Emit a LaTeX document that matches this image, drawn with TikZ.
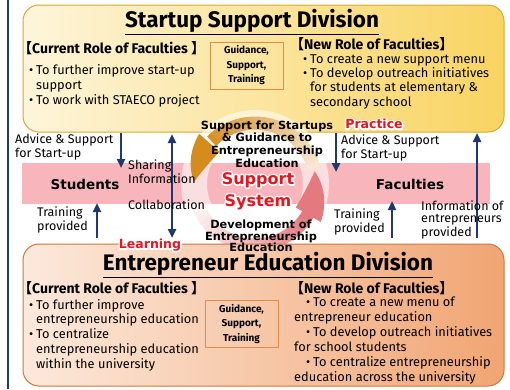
\documentclass[tikz,border=0pt]{standalone}
\usepackage{fontspec}
\setmainfont{Fira Sans}
\newfontfamily\cjk{Noto Sans CJK JP}
\newfontfamily\wide{DejaVu Sans}
\usetikzlibrary{arrows.meta}

\definecolor{navy}{RGB}{31,56,110}
\definecolor{topfillL}{RGB}{254,245,218}
\definecolor{topfillR}{RGB}{249,212,98}
\definecolor{topedge}{RGB}{214,170,50}
\definecolor{botfillL}{RGB}{252,233,220}
\definecolor{botfillR}{RGB}{241,165,115}
\definecolor{botedge}{RGB}{204,118,62}
\definecolor{gstorange}{RGB}{228,140,70}
\definecolor{bandpink}{RGB}{248,182,188}
\definecolor{ringgold}{RGB}{212,140,30}
\definecolor{ringpink}{RGB}{228,122,128}
\definecolor{glowred}{RGB}{232,20,30}

\newcommand\lb{{\cjk【}}
\newcommand\rb{{\cjk】}}
\newcommand\bul{\makebox[7pt][l]{•}}
\newcommand\halo[1]{\special{pdf:literal direct 2 Tr 3.2 w 1 j}#1\special{pdf:literal direct 0 Tr 1 w 0 j}}
\newcommand\glowlabel[4]{%
  \node[glowtext, font=#3, text=white] at (#2) {\halo{#4}};
  \node[glowtext, font=#3, text=glowred] (#1) at (#2) {#4};}

\tikzset{
  divbox/.style={rounded corners=16pt, line width=1pt},
  divtitle/.style={font=\fontsize{22.5}{26}\selectfont\bfseries, inner sep=0},
  rolehead/.style={font=\fontsize{14}{16}\selectfont\bfseries, anchor=west, inner sep=0},
  bullets/.style={font=\fontsize{12.8}{14.6}\selectfont, anchor=base west, align=left, inner sep=0},
  gstbox/.style={draw=gstorange, line width=0.8pt, font=\fontsize{10}{14.5}\selectfont\bfseries,
    align=center, inner sep=0, minimum width=#1, minimum height=47pt},
  midlabel/.style={font=\fontsize{12.5}{11.8}\selectfont, anchor=base west, align=left, inner sep=0},
  sidename/.style={font=\wide\fontsize{13.5}{16}\selectfont\bfseries, inner sep=0},
  ringtext/.style={font=\wide\fontsize{11.3}{12.6}\selectfont\bfseries, align=center, inner sep=0},
  glowtext/.style={align=center, inner sep=0},
  navyarrow/.style={navy, line width=2.5pt, -{Triangle[length=9pt,width=8pt]}},
  navydouble/.style={navy, line width=2.5pt, {Triangle[length=9pt,width=8pt]}-{Triangle[length=9pt,width=8pt]}}
}

\begin{document}
\begin{tikzpicture}[x=1pt, y=-1pt]
\useasboundingbox (0,0) rectangle (510,389);
\fill[white] (0,0) rectangle (510,389);
\draw[navy, line width=1.5pt] (8,0) -- (8,389);

\shade[divbox, left color=topfillL, right color=topfillR, draw=topedge] (23,5) rectangle (504,132);
\fill[bandpink] (22,163) rectangle (490,204);

\begin{scope}[shift={(255,184)}, yscale=-1]
\draw[white, line width=26pt, opacity=0.55] (0,0) circle (61);
\foreach \a in {15,20,...,130} {
  \pgfmathsetmacro\p{int(20+(\a-15)/115*75)}
  \draw[ringgold!\p!white, line width=13pt] (\a:61) arc (\a:\a+5.5:61);
}
\foreach \a in {200,205,...,325} {
  \pgfmathsetmacro\p{int(8+(\a-200)/125*92)}
  \draw[ringpink!\p!white, line width=13pt] (\a:61) arc (\a:\a+5.5:61);
}
\fill[ringpink] (330:47) -- (330:76) .. controls (345:75) and (360:69) .. (372:61)
  .. controls (360:54) and (345:49) .. (330:47) -- cycle;
\fill[ringgold] (138:48) -- (138:75) .. controls (153:74) and (167:68) .. (178:61)
  .. controls (167:55) and (153:50) .. (138:48) -- cycle;
\end{scope}

\shade[divbox, left color=botfillL, right color=botfillR, draw=botedge] (23,244) rectangle (504,386);

\node[divtitle] (sstitle) at (252,22) {\underline{Startup Support Division}};
\node[rolehead] (sscur) at (18,48) {\lb Current Role of Faculties \rb};
\node[bullets] (sscurlist) at (29,104) {\bul To further improve start-up\\\hspace*{7pt}support\\\bul To work with STAECO project};
\node[gstbox=73pt] (ssgst) at (246.5,65.5) {Guidance,\\Support,\\Training};
\node[rolehead] (ssnew) at (290,44) {\lb New Role of Faculties\rb};
\node[bullets, font=\fontsize{12.8}{14.2}\selectfont] (ssnewlist) at (303,106) {\bul To create a new support menu\\\bul To develop outreach initiatives\\\hspace*{7pt}for students at elementary \&\\\hspace*{7pt}secondary school};

\node[divtitle] (eetitle) at (268,265) {\underline{Entrepreneur Education Division}};
\node[rolehead] (eecur) at (18,288) {\lb Current Role of Faculties \rb};
\node[bullets, font=\fontsize{12.8}{14.7}\selectfont] (eecurlist) at (29,368) {\bul To further improve\\\hspace*{7pt}entrepreneurship education\\\bul To centralize\\\hspace*{7pt}entrepreneurship education\\\hspace*{7pt}within the university};
\node[gstbox=73pt] (eegst) at (241.5,324) {Guidance,\\Support,\\Training};
\node[rolehead] (eenew) at (290,288) {\lb New Role of Faculties\rb};
\node[bullets, font=\fontsize{12.8}{15}\selectfont] (eenewlist) at (294,381) {\hspace*{12pt}\bul To create a new menu of\\entrepreneur education\\\hspace*{12pt}\bul To develop outreach initiatives\\for school students\\\hspace*{12pt}\bul To centralize entrepreneurship\\education across the university};

\node[sidename] (students) at (85,184) {Students};
\node[sidename] (faculties) at (410,184) {Faculties};

\node[ringtext] (ringtop) at (267,144) {Support for Startups\\\& Guidance to\\Entrepreneurship\\Education};
\node[ringtext, font=\wide\fontsize{11.3}{11.5}\selectfont\bfseries] (ringbot) at (261,236) {Development of\\Entrepreneurship\\Education};
\glowlabel{system}{258,191}{\wide\fontsize{16}{22}\selectfont\bfseries}{Support\\System}
\glowlabel{practice}{374,124}{\wide\fontsize{12.5}{15}\selectfont\bfseries}{Practice}
\glowlabel{learning}{150,245}{\wide\fontsize{12.5}{15}\selectfont\bfseries}{Learning}

\coordinate (advLs) at (121,133);
\coordinate (advLe) at (121,168);
\coordinate (trnLs) at (97,238);
\coordinate (trnLe) at (97,203);
\coordinate (shrs) at (172,134);
\coordinate (shre) at (172,238);
\coordinate (advRs) at (336,133);
\coordinate (advRe) at (336,172);
\coordinate (trnRs) at (392,238);
\coordinate (trnRe) at (392,201);
\coordinate (infs) at (477,238);
\coordinate (infe) at (477,133);
\draw[navyarrow] (advLs) -- (advLe);
\draw[navyarrow] (trnLs) -- (trnLe);
\draw[navydouble] (shrs) -- (shre);
\draw[navyarrow] (advRs) -- (advRe);
\draw[navyarrow] (trnRs) -- (trnRe);
\draw[navyarrow] (infs) -- (infe);

\node[midlabel] (advL) at (15,157) {Advice \& Support\\for Start-up};
\node[midlabel] (trnL) at (37,230) {Training\\provided};
\node[midlabel] (shr) at (128,183) {Sharing\\Information};
\node[midlabel] (collab) at (128,209) {Collaboration};
\node[midlabel] (advR) at (341,158) {Advice \& Support\\for Start-up};
\node[midlabel] (trnR) at (334,232) {Training\\provided};
\node[midlabel] (inf) at (421,236) {Information of\\entrepreneurs\\provided};
\end{tikzpicture}
\end{document}
